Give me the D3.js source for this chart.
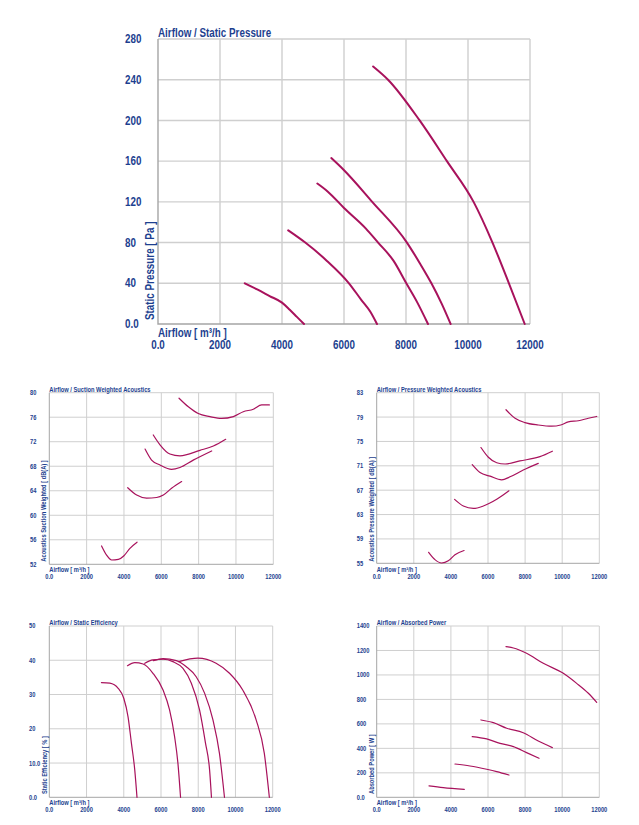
<!DOCTYPE html>
<html>
<head>
<meta charset="utf-8">
<script src="https://cdn.jsdelivr.net/npm/d3@7"></script>
<style>
  html, body { margin: 0; padding: 0; background: #fff; }
  svg { display: block; }
  text { font-family: "Liberation Sans", Arial, sans-serif; font-weight: bold; fill: #1d3f8f; }
  .grid line { stroke: #cfcfcf; }
  .frame { stroke: #a5a5a5; }
  .curve { fill: none; stroke: #a8125c; stroke-linejoin: round; stroke-linecap: round; }
</style>
</head>
<body>
<svg id="chart" width="639" height="825"></svg>
<script>
// ---- data (airflow in m³/h) ----
const AIRFLOW_TICKS = [0, 2000, 4000, 6000, 8000, 10000, 12000];

const pressureTicks = [0, 40, 80, 120, 160, 200, 240, 280];
const pressureCurves = [
  [[2800, 40], [3200, 34], [3600, 27.5], [4000, 21], [4250, 14], [4480, 7], [4710, 0]],
  [[4200, 92], [4750, 80], [5450, 62], [6160, 40], [6550, 24], [6850, 12], [7065, 0]],
  [[5140, 138], [5480, 130], [6000, 114], [6700, 94], [7100, 80], [7600, 62], [8010, 40], [8350, 22], [8710, 0]],
  [[5590, 163], [5970, 152], [6910, 120], [8030, 80], [8440, 60], [8820, 40], [9150, 20], [9440, 0]],
  [[6940, 253], [7420, 240], [8440, 200], [9320, 160], [10180, 120], [10790, 80], [11320, 40], [11830, 0]],
];

const suctionTicks = [52, 56, 60, 64, 68, 72, 76, 80];
const suctionCurves = [
  [[2800, 55.0], [3070, 53.5], [3340, 52.7], [3700, 52.8], [4000, 53.4], [4320, 54.6], [4700, 55.6]],
  [[4200, 64.5], [4680, 63.3], [5210, 62.8], [5750, 62.9], [6110, 63.3], [6550, 64.4], [7090, 65.5]],
  [[5130, 70.8], [5480, 69.0], [5930, 68.2], [6550, 67.5], [7000, 67.8], [7710, 69.0], [8700, 70.5]],
  [[5570, 73.1], [5930, 71.5], [6460, 70.0], [7000, 69.7], [8070, 70.6], [8790, 71.3], [9450, 72.4]],
  [[6950, 79.1], [7450, 77.7], [7980, 76.6], [8610, 76.1], [9230, 75.8], [9860, 76.1], [10390, 76.9], [10930, 77.3], [11380, 78.0], [11790, 78.0]],
];

const pressureDbTicks = [55, 59, 63, 67, 71, 75, 79, 83];
const pressureDbCurves = [
  [[2800, 56.8], [3140, 55.6], [3500, 55.05], [3860, 55.4], [4220, 56.4], [4710, 57.1]],
  [[4200, 65.5], [4670, 64.4], [5210, 64.0], [5750, 64.4], [6470, 65.5], [7130, 66.9]],
  [[5150, 71.2], [5570, 69.9], [6110, 69.3], [6740, 68.7], [7190, 69.2], [7900, 70.3], [8710, 71.4]],
  [[5620, 74.0], [6020, 72.4], [6470, 71.5], [6920, 71.3], [7720, 71.8], [8800, 72.5], [9470, 73.4]],
  [[6970, 80.2], [7460, 78.8], [7990, 78.1], [8710, 77.7], [9430, 77.5], [9920, 77.7], [10330, 78.2], [10870, 78.4], [11410, 78.8], [11860, 79.1]],
];

const efficiencyTicks = [0, 10, 20, 30, 40, 50];
const efficiencyLabels = ["0.0", "10.0", "20", "30", "40", "50"];
const efficiencyCurves = [
  [[2800, 33.5], [3250, 33.3], [3700, 31.8], [4000, 28.9], [4230, 23.5], [4410, 15.8], [4590, 8.0], [4710, 0]],
  [[4200, 38.4], [4590, 39.3], [5040, 38.9], [5570, 36.2], [6110, 31.3], [6460, 25.5], [6730, 17.7], [6910, 9.9], [7050, 0]],
  [[5130, 39.1], [5570, 40.1], [6110, 40.3], [6640, 39.6], [7180, 37.6], [7630, 33.3], [8070, 25.5], [8390, 15.8], [8610, 8.0], [8710, 0]],
  [[5590, 39.9], [6110, 40.5], [6820, 39.9], [7360, 38.1], [7890, 35.2], [8340, 30.4], [8790, 22.6], [9140, 12.8], [9410, 0]],
  [[6950, 39.6], [7980, 40.6], [8960, 39.1], [9680, 36.2], [10390, 31.3], [11110, 22.6], [11550, 12.8], [11820, 0]],
];

const powerTicks = [0, 200, 400, 600, 800, 1000, 1200, 1400];
const powerCurves = [
  [[2820, 93], [3590, 79], [4720, 65]],
  [[4220, 272], [5030, 256], [5930, 229], [6470, 210], [7130, 182]],
  [[5150, 496], [5930, 477], [6650, 441], [7370, 414], [8080, 365], [8750, 319]],
  [[5620, 632], [6290, 610], [7010, 564], [7900, 528], [8710, 460], [9470, 406]],
  [[6970, 1231], [7370, 1220], [8080, 1177], [8980, 1095], [10060, 1013], [10780, 931], [11410, 850], [11860, 776]],
];

const svg = d3.select("#chart");
const SQUEEZE = 0.82; // the reference uses a narrow face

function fmtX(d) { return d === 0 ? "0.0" : String(d); }

// text placed through a transform so it can be squeezed horizontally
function label(sel, x, y, rot) {
  return sel.attr("transform", (d, i) => {
    const xx = typeof x === "function" ? x(d, i) : x;
    const yy = typeof y === "function" ? y(d, i) : y;
    return `translate(${xx},${yy})${rot ? " rotate(-90)" : ""} scale(${SQUEEZE},1)`;
  }).attr("dy", "0.35em");
}

function drawPanel(p) {
  const x = d3.scaleLinear().domain([0, 12000]).range([p.left, p.right]);
  const y = d3.scaleLinear().domain([p.ticks[0], p.ticks[p.ticks.length - 1]]).range([p.bottom, p.top]);
  const g = svg.append("g");

  // grid
  const grid = g.append("g").attr("class", "grid").attr("stroke-width", p.gridW);
  grid.selectAll("line.v").data(AIRFLOW_TICKS.slice(1)).join("line")
    .attr("x1", (d) => x(d)).attr("x2", (d) => x(d))
    .attr("y1", p.top).attr("y2", p.bottom);
  grid.selectAll("line.h").data(p.ticks.slice(1)).join("line")
    .attr("x1", p.left).attr("x2", p.right)
    .attr("y1", (d) => y(d)).attr("y2", (d) => y(d));
  // left + bottom frame
  g.append("path").attr("class", "frame").attr("fill", "none").attr("stroke-width", p.gridW)
    .attr("d", `M${p.left},${p.top}V${p.bottom}H${p.right}`);

  // curves
  const line = d3.line().x((d) => x(d[0])).y((d) => y(d[1])).curve(d3.curveMonotoneX);
  g.selectAll("path.curve").data(p.curves).join("path")
    .attr("class", "curve").attr("stroke-width", p.lineW).attr("d", line);

  // y tick labels (left aligned)
  g.selectAll("text.yt").data(p.ticks).join("text")
    .call(label, p.yLabelX, (d) => y(d))
    .style("font-size", p.fs + "px")
    .text((d, i) => p.labels ? p.labels[i] : (d === 0 ? "0.0" : d));

  // x tick labels
  g.selectAll("text.xt").data(AIRFLOW_TICKS).join("text")
    .call(label, (d) => x(d), p.xLabelY)
    .attr("text-anchor", "middle").style("font-size", p.fs + "px")
    .text(fmtX);

  // titles
  g.append("text").call(label, p.left, p.titleY)
    .style("font-size", p.fs + "px").text(p.title);
  g.append("text").call(label, p.left, p.xTitleY)
    .style("font-size", p.fs + "px").text("Airflow [ m³/h ]");
  g.append("text").call(label, p.yTitleX, p.yTitleY, true)
    .style("font-size", p.fs + "px").text(p.yTitle);
}

drawPanel({
  title: "Airflow / Static Pressure", yTitle: "Static Pressure [ Pa ]",
  ticks: pressureTicks, curves: pressureCurves,
  left: 158, right: 530, top: 39, bottom: 324,
  fs: 12, gridW: 1.4, lineW: 2,
  yLabelX: 125, xLabelY: 345, titleY: 32.5, xTitleY: 333, yTitleX: 150, yTitleY: 320,
});

drawPanel({
  title: "Airflow / Suction Weighted Acoustics", yTitle: "Acoustics Suction Weighted [ dB(A) ]",
  ticks: suctionTicks, curves: suctionCurves,
  left: 49.3, right: 273.3, top: 392.7, bottom: 564.3,
  fs: 7, gridW: 1, lineW: 1.2,
  yLabelX: 30, xLabelY: 576.7, titleY: 389.3, xTitleY: 569.3, yTitleX: 43.3, yTitleY: 561.7,
});

drawPanel({
  title: "Airflow / Pressure Weighted Acoustics", yTitle: "Acoustics Pressure Weighted [ dB(A) ]",
  ticks: pressureDbTicks, curves: pressureDbCurves,
  left: 376.7, right: 599.3, top: 392.7, bottom: 563.3,
  fs: 7, gridW: 1, lineW: 1.2,
  yLabelX: 356.7, xLabelY: 576.7, titleY: 389.3, xTitleY: 569.3, yTitleX: 371.7, yTitleY: 561.7,
});

drawPanel({
  title: "Airflow / Static Efficiency", yTitle: "Static Efficiency [ % ]",
  ticks: efficiencyTicks, labels: efficiencyLabels, curves: efficiencyCurves,
  left: 49.3, right: 272.7, top: 626, bottom: 797.3,
  fs: 7, gridW: 1, lineW: 1.2,
  yLabelX: 29, xLabelY: 810, titleY: 622.7, xTitleY: 802.7, yTitleX: 44.3, yTitleY: 794,
});

drawPanel({
  title: "Airflow / Absorbed Power", yTitle: "Absorbed Power [ W ]",
  ticks: powerTicks, curves: powerCurves,
  left: 376.7, right: 599.3, top: 626, bottom: 797.3,
  fs: 7, gridW: 1, lineW: 1.2,
  yLabelX: 356.7, xLabelY: 810, titleY: 622.7, xTitleY: 802.7, yTitleX: 371.7, yTitleY: 794,
});
</script>
</body>
</html>
